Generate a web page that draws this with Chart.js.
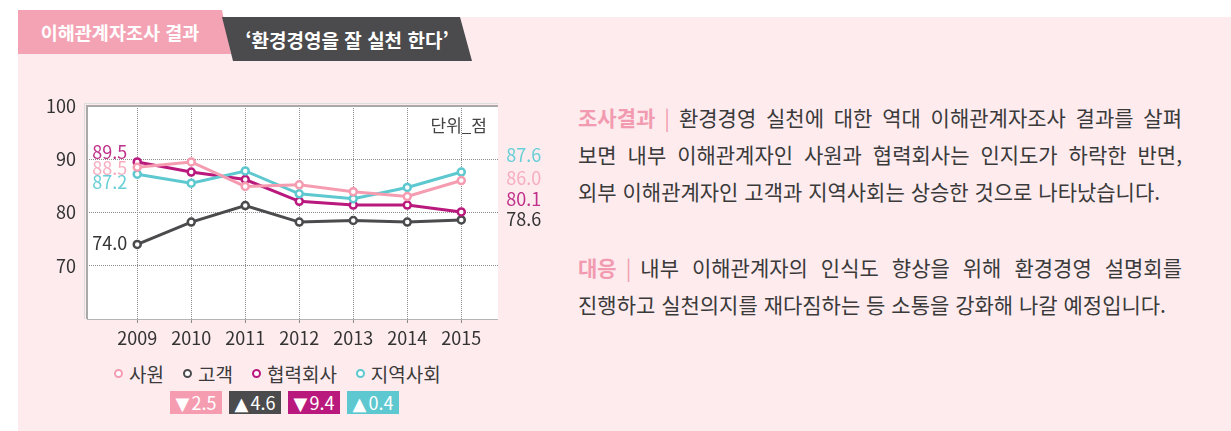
<!DOCTYPE html>
<html lang="ko">
<head>
<meta charset="utf-8">
<title>이해관계자조사 결과</title>
<script src="https://cdn.jsdelivr.net/npm/chart.js@4/dist/chart.umd.min.js"></script>
<style>
  html, body { margin: 0; padding: 0; }
  body {
    width: 1231px; height: 431px; position: relative; overflow: hidden;
    background: #fff; font-family: "Noto Sans CJK KR", "Noto Sans", sans-serif; color: #3a3a3a;
  }
  .panel { position: absolute; left: 18px; top: 17px; right: 0; bottom: 0; background: #fdebee; }
  .tab {
    position: absolute; color: #fff; font-weight: bold; font-size: 18.5px;
    display: flex; align-items: center; justify-content: center; white-space: nowrap;
  }
  .tab-pink {
    left: 18px; top: 10px; width: 213px; height: 44px; background: #f4a3b5;
    clip-path: polygon(0 0, 204px 0, 213px 44px, 0 44px); padding-right: 9px; box-sizing: border-box;
  }
  .tab-dark {
    left: 222px; top: 17px; width: 250px; height: 44px; background: #4b4b4d; font-size: 19px;
    clip-path: polygon(0 0, 238px 0, 250px 44px, 11px 44px);
  }
  .chart-box { position: absolute; left: 0; top: 0; width: 560px; height: 360px; }
  .unit { position: absolute; right: calc(1231px - 487px); top: 112px; font-size: 17px; color: #444; }
  .legend {
    position: absolute; left: 114px; top: 360px; height: 26px; display: flex; align-items: center;
    gap: 19px; font-size: 19px; color: #3a3a3a;
  }
  .legend span { display: flex; align-items: center; gap: 6px; }
  .legend i { width: 5px; height: 5px; border-radius: 50%; border: 2.5px solid; background: #fff; }
  .badges { position: absolute; left: 170px; top: 391px; display: flex; gap: 7px; }
  .badges div {
    width: 52px; height: 23px; color: #fff; font-size: 18px; line-height: 23px; text-align: center;
    white-space: nowrap;
  }
  .badges b { font-weight: normal; font-family: "DejaVu Sans", sans-serif; font-size: 18px; margin-right: 2px; }
  .text { position: absolute; left: 578px; width: 604px; font-size: 21px; line-height: 37px; color: #3a3a3a; }
  .text div { white-space: nowrap; }
  .text .j { text-align: justify; text-align-last: justify; }
  .text em { font-style: normal; color: #f29bb0; font-weight: bold; }
  .text .bar { color: #f29bb0; margin: 0 9px; }
</style>
</head>
<body>
<div class="panel"></div>
<div class="tab tab-pink">이해관계자조사 결과</div>
<div class="tab tab-dark">‘환경경영을 잘 실천 한다’</div>

<div class="chart-box"><canvas id="trend"></canvas></div>
<div class="unit">단위_점</div>

<div class="legend" id="legend"></div>
<div class="badges" id="badges"></div>

<div class="text" style="top: 99px;">
  <div class="j"><em>조사결과</em><span class="bar">|</span>환경경영 실천에 대한 역대 이해관계자조사 결과를 살펴</div>
  <div class="j">보면 내부 이해관계자인 사원과 협력회사는 인지도가 하락한 반면,</div>
  <div>외부 이해관계자인 고객과 지역사회는 상승한 것으로 나타났습니다.</div>
</div>
<div class="text" style="top: 249px;">
  <div class="j"><em>대응</em><span class="bar">|</span>내부 이해관계자의 인식도 향상을 위해 환경경영 설명회를</div>
  <div>진행하고 실천의지를 재다짐하는 등 소통을 강화해 나갈 예정입니다.</div>
</div>

<script>
const FONT = '"Noto Sans CJK KR", "Noto Sans", sans-serif';

const years = [2009, 2010, 2011, 2012, 2013, 2014, 2015];
const yTicks = [60, 70, 80, 90, 100];

const staff = [88.5, 89.5, 84.9, 85.2, 83.9, 83.0, 86.0];        // 사원
const customers = [74.0, 78.2, 81.3, 78.2, 78.5, 78.2, 78.6];    // 고객
const partners = [89.5, 87.6, 86.2, 82.1, 81.4, 81.4, 80.1];     // 협력회사
const community = [87.2, 85.5, 87.8, 83.5, 82.6, 84.7, 87.6];    // 지역사회

const seriesNames = ['사원', '고객', '협력회사', '지역사회'];
const seriesValues = [staff, customers, partners, community];

// line / marker colour, end-label colour, draw order (lower = on top)
const looks = [
  { line: '#f59cb1', text: '#f7adbf', order: 0 },
  { line: '#4b4b4d', text: '#333333', order: 3 },
  { line: '#b9197c', text: '#c0308a', order: 2 },
  { line: '#5dc8cf', text: '#68cfd6', order: 1 },
];

// vertical nudges so the stacked start/end labels don't collide
const labelNudge = [
  { first: 1, last: -2.5 },
  { first: -1.5, last: -1 },
  { first: -10, last: -13 },
  { first: 7.5, last: -17 },
];

const datasets = seriesNames.map((name, i) => ({
  label: name,
  data: seriesValues[i],
  borderColor: looks[i].line,
  backgroundColor: looks[i].line,
  borderWidth: 3,
  pointRadius: 3.5,
  pointBorderWidth: 2.5,
  pointBackgroundColor: '#fff',
  pointBorderColor: looks[i].line,
  tension: 0,
  order: looks[i].order,
}));

// white plot area with a grey frame on the left, top and bottom
const plotFrame = {
  id: 'plotFrame',
  beforeDraw(chart) {
    const { ctx, chartArea: a } = chart;
    ctx.save();
    ctx.fillStyle = '#fff';
    ctx.fillRect(a.left, a.top, a.right - a.left, a.bottom - a.top);
    ctx.restore();
  },
  beforeDatasetsDraw(chart) {
    const { ctx, chartArea: a } = chart;
    ctx.save();
    ctx.strokeStyle = '#dcdcdc';
    ctx.lineWidth = 1;
    ctx.beginPath();
    ctx.moveTo(a.left - 2.5, a.bottom);
    ctx.lineTo(a.left - 2.5, a.top - 2.5);
    ctx.lineTo(a.right, a.top - 2.5);
    ctx.stroke();
    ctx.strokeStyle = '#a9a9a9';
    ctx.lineWidth = 2;
    ctx.beginPath();
    ctx.moveTo(a.left, a.bottom);
    ctx.lineTo(a.left, a.top);
    ctx.lineTo(a.right, a.top);
    ctx.stroke();
    ctx.lineWidth = 1;
    ctx.strokeStyle = '#b5b5b5';
    ctx.beginPath();
    ctx.moveTo(a.left, a.bottom + 0.5);
    ctx.lineTo(a.right, a.bottom + 0.5);
    ctx.stroke();
    ctx.restore();
  },
};

// first and last value of every series beside the line
const endLabels = {
  id: 'endLabels',
  afterDatasetsDraw(chart) {
    const { ctx, scales: { x, y } } = chart;
    ctx.save();
    ctx.font = `18px ${FONT}`;
    ctx.textBaseline = 'middle';
    seriesValues.forEach((vals, i) => {
      const first = vals[0];
      const last = vals[vals.length - 1];
      ctx.fillStyle = looks[i].text;
      ctx.textAlign = 'right';
      ctx.fillText(first.toFixed(1), x.getPixelForValue(years[0]) - 10, y.getPixelForValue(first) + labelNudge[i].first);
      ctx.textAlign = 'left';
      ctx.fillText(last.toFixed(1), x.getPixelForValue(years[years.length - 1]) + 45, y.getPixelForValue(last) + labelNudge[i].last);
    });
    ctx.restore();
  },
};

const gridColor = (ctx) => {
  const v = ctx.tick && ctx.tick.value;
  return v === 60 || v === 100 ? 'rgba(0,0,0,0)' : '#8c8c8c';
};

new Chart(document.getElementById('trend'), {
  type: 'line',
  data: { labels: years, datasets },
  options: {
    responsive: true,
    maintainAspectRatio: false,
    animation: false,
    layout: { padding: { top: 106, right: 62, bottom: 0, left: 0 } },
    plugins: { legend: { display: false }, tooltip: { enabled: false } },
    scales: {
      x: {
        type: 'linear',
        min: 2008.07,
        max: 2015.68,
        afterBuildTicks: (scale) => { scale.ticks = years.map((v) => ({ value: v })); },
        afterFit: (scale) => { scale.height = 41; },
        grid: { color: '#8c8c8c', lineWidth: 1, drawTicks: true, tickLength: 4 },
        border: { display: false, dash: [1, 1] },
        ticks: {
          color: '#333',
          font: { family: FONT, size: 18 },
          padding: 4,
          maxRotation: 0,
          callback: (v) => String(v),
        },
      },
      y: {
        min: 60,
        max: 100,
        afterBuildTicks: (scale) => { scale.ticks = yTicks.map((v) => ({ value: v })); },
        afterFit: (scale) => { scale.width = 87; },
        grid: { color: gridColor, lineWidth: 1, drawTicks: false },
        border: { display: false, dash: [1, 1] },
        ticks: {
          color: '#333',
          font: { family: FONT, size: 18 },
          padding: 11,
          callback: (v) => (v === 60 ? '' : String(v)),
        },
      },
    },
  },
  plugins: [plotFrame, endLabels],
});

// legend and change badges, built from the same series
const legendEl = document.getElementById('legend');
seriesNames.forEach((name, i) => {
  const item = document.createElement('span');
  const dot = document.createElement('i');
  dot.style.borderColor = looks[i].line;
  item.appendChild(dot);
  item.appendChild(document.createTextNode(name));
  legendEl.appendChild(item);
});

const badgeEl = document.getElementById('badges');
seriesValues.forEach((vals, i) => {
  const change = vals[vals.length - 1] - vals[0];
  const box = document.createElement('div');
  box.style.background = looks[i].line;
  const arrow = document.createElement('b');
  arrow.textContent = change >= 0 ? '▲' : '▼';
  box.appendChild(arrow);
  box.appendChild(document.createTextNode(Math.abs(change).toFixed(1)));
  badgeEl.appendChild(box);
});
</script>
</body>
</html>
